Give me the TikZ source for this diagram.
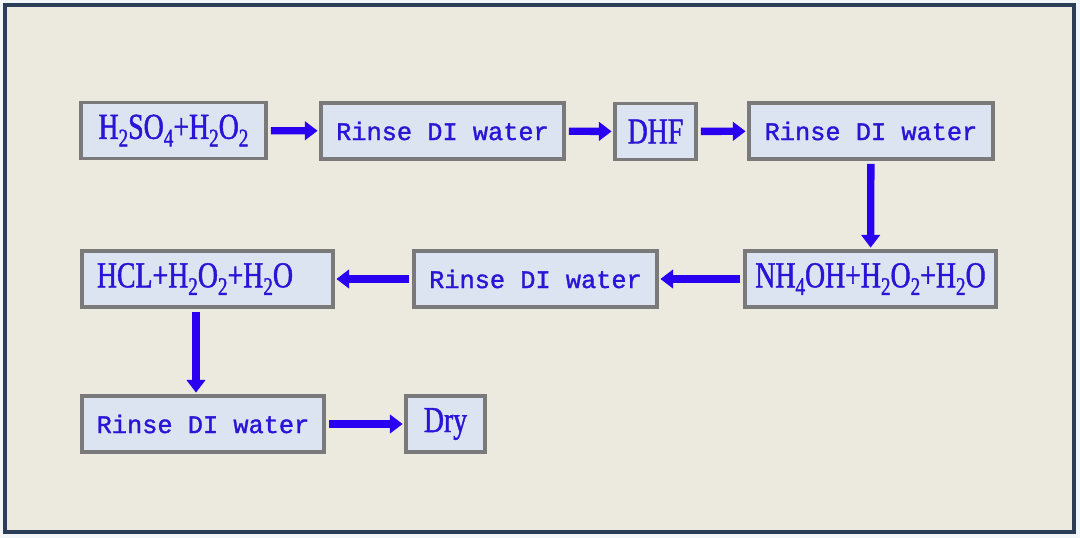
\documentclass[tikz,border=0pt]{standalone}
\usepackage{fontspec}
\setmainfont{Liberation Serif}
\newfontfamily\chemfont[FakeStretch=0.76,FakeBold=1.2]{Liberation Serif}
\newfontfamily\rinsefont[FakeBold=1.3]{Liberation Mono}
\usetikzlibrary{arrows.meta}
\definecolor{pagebg}{HTML}{F3F6F9}
\definecolor{panelbg}{HTML}{ECE9DF}
\definecolor{frameblue}{HTML}{2C3D58}
\definecolor{boxfill}{HTML}{DCE4F2}
\definecolor{boxline}{HTML}{7A7A7A}
\definecolor{inkblue}{HTML}{2A14D6}
\definecolor{arrowblue}{HTML}{2A00F0}
\newcommand\chsub[1]{\raisebox{-0.45ex}{\fontsize{18}{20}\selectfont#1}}

\begin{document}
\begin{tikzpicture}[x=0.025cm,y=-0.025cm,
        stepbox/.style={draw=boxline,line width=2.8pt,fill=boxfill,text=inkblue,
            inner sep=0pt,minimum height=1.4cm},
        chem/.style={stepbox,font=\chemfont\fontsize{26}{28}\selectfont},
        rinse/.style={stepbox,font=\rinsefont\fontsize{18}{20}\selectfont},
        flow/.style={arrowblue,line width=5.2pt,shorten <=2pt,shorten >=1pt,
            -{Triangle[length=9pt,width=13pt]}}
    ]
    % page and frame
    \fill[pagebg] (0,0) rectangle (1080,538);
    \draw[frameblue,line width=2.2pt,fill=panelbg] (5,5) rectangle (1074,532);

    % first row
    \node[chem,minimum width=4.625cm] (sulf) at (173.5,130.5) {H\chsub{2}SO\chsub{4}+H\chsub{2}O\chsub{2}};
    \node[rinse,minimum width=6.075cm] (rinseA) at (442.5,131) {Rinse DI water};
    \node[chem,minimum width=2.025cm] (dhf) at (655.5,131.5) {DHF};
    \node[rinse,minimum width=6.1cm] (rinseB) at (871,131) {Rinse DI water};

    % second row
    \node[chem,minimum width=6.275cm] (ammon) at (870.5,279) {NH\chsub{4}OH+H\chsub{2}O\chsub{2}+H\chsub{2}O};
    \node[rinse,minimum width=6.075cm] (rinseC) at (535.5,279) {Rinse DI water};
    \node[chem,minimum width=6.275cm,text width=5.525cm,align=left] (hcl) at (207.5,279) {HCL+H\chsub{2}O\chsub{2}+H\chsub{2}O};

    % third row
    \node[rinse,minimum width=6.05cm] (rinseD) at (203,424) {Rinse DI water};
    \node[chem,minimum width=1.975cm] (dry) at (445.5,424) {Dry};

    % connectors
    \draw[flow] (sulf) -- (rinseA);
    \draw[flow] (rinseA) -- (dhf);
    \draw[flow] (dhf) -- (rinseB);
    \draw[flow] (rinseB) -- (ammon);
    \draw[flow] (ammon) -- (rinseC);
    \draw[flow] (rinseC) -- (hcl);
    \draw[flow] ([xshift=-0.175cm]hcl.south -| rinseD.north) -- ([xshift=-0.175cm]rinseD.north);
    \draw[flow] (rinseD) -- (dry);
\end{tikzpicture}
\end{document}
